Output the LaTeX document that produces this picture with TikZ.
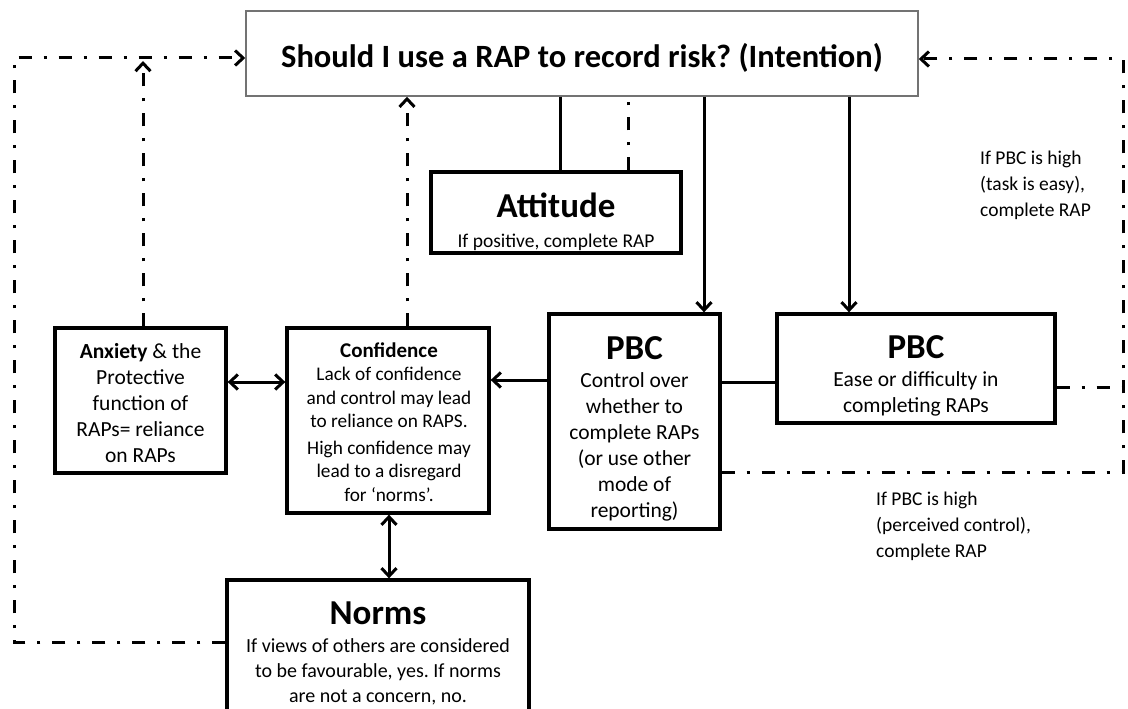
\documentclass[tikz,border=0pt]{standalone}
\usepackage{fontspec}
\setmainfont{Carlito}
\usetikzlibrary{arrows.meta}
\frenchspacing
\begin{document}
\begin{tikzpicture}[x=1pt,y=-1pt,
  box/.style={draw, line width=3.3pt, inner sep=0pt},
  txt/.style={align=center, inner sep=0pt},
  conn/.style={line width=3pt},
  dd/.style={line width=3pt, dash pattern=on 13pt off 12pt on 3pt off 12pt},
  barb/.tip={Straight Barb[length=8pt,width=15pt,line width=3pt]},
  tip/.style={-barb},
  tips/.style={barb-barb},
  lbl/.style={align=left, inner sep=0pt, font=\fontsize{19.5}{26}\selectfont},
  head/.style={font=\bfseries\fontsize{35}{40}\selectfont}
]
\useasboundingbox (0,0) rectangle (1128,709);

% boxes
\node[box, draw=black!55, line width=1.5pt, minimum width=672pt, minimum height=85pt] (top) at (582,53.5) {};
\node[box, minimum width=250pt, minimum height=81pt] (att) at (556,212.5) {};
\node[box, minimum width=171pt, minimum height=215pt] (pbc1) at (634.5,421.5) {};
\node[box, minimum width=278pt, minimum height=109pt] (pbc2) at (916,368.5) {};
\node[box, minimum width=171pt, minimum height=145pt] (anx) at (140.5,400.5) {};
\node[box, minimum width=202pt, minimum height=185pt] (conf) at (388,420.5) {};
\node[box, minimum width=302pt, minimum height=140pt] (norms) at (378,650) {};

% box texts
\node[txt, font=\bfseries\fontsize{32.5}{38}\selectfont] (toptxt) at (582,58)
  {Should I use a RAP to record risk? (Intention)};
\node[txt, font=\fontsize{19.5}{24}\selectfont] (atttxt) at (556,222)
  {{\bfseries\fontsize{35}{40}\selectfont Attitude}\\[6pt] If positive, complete RAP};
\node[txt, font=\fontsize{21.5}{26}\selectfont] (pbc1txt) at (634.5,428.5)
  {{\bfseries\fontsize{35}{40}\selectfont PBC}\\[2pt] Control over\\ whether to\\ complete RAPs\\ (or use other\\ mode of\\ reporting)};
\node[txt, font=\fontsize{21.5}{26}\selectfont] (pbc2txt) at (916,375.5)
  {{\bfseries\fontsize{35}{40}\selectfont PBC}\\[2pt] Ease or difficulty in\\ completing RAPs};
\node[txt, font=\fontsize{21.5}{26}\selectfont] (anxtxt) at (140.5,403.5)
  {\textbf{Anxiety} \& the\\ Protective\\ function of\\ RAPs= reliance\\ on RAPs};
\node[txt, font=\fontsize{19.3}{23.5}\selectfont] (conftxt) at (389,422)
  {{\bfseries\fontsize{21}{24}\selectfont Confidence}\\ Lack of confidence\\ and control may lead\\ to reliance on RAPS.\\[3pt] High confidence may\\ lead to a disregard\\ for ‘norms’.};
\node[txt, font=\fontsize{20}{25}\selectfont] (normstxt) at (378,653)
  {{\bfseries\fontsize{35}{40}\selectfont Norms}\\[3pt] If views of others are considered\\ to be favourable, yes. If norms\\ are not a concern, no.};

% free labels
\node[lbl, anchor=north west] (lab1) at (980,151) {If PBC is high\\ (task is easy),\\ complete RAP};
\node[lbl, anchor=north west] (lab2) at (876,492) {If PBC is high\\ (perceived control),\\ complete RAP};

% loop corners
\coordinate (lt) at (14,58);
\coordinate (lb) at (14,642);
\coordinate (rt) at (1123,59);
\coordinate (rb) at (1123,472);
\coordinate (anxend) at (143,61);

% solid connectors
\draw[conn] (560,0 |- top.south) -- (560,0 |- att.north);
\draw[conn,tip] (704,0 |- top.south) -- (704,0 |- pbc1.north);
\draw[conn,tip] (849,0 |- top.south) -- (849,0 |- pbc2.north);
\draw[conn] (pbc1.east |- 0,382) -- (pbc2.west |- 0,382);
\draw[conn,tip] (pbc1.west |- 0,380) -- (conf.east |- 0,380);
\draw[conn,tips] (anx.east |- 0,382) -- (conf.west |- 0,382);
\draw[conn,tips] (389,0 |- conf.south) -- (389,0 |- norms.north);

% dash-dot feedback connectors
\draw[dd] (628,0 |- att.north) -- (628,0 |- top.south);
\draw[dd,tip] (407,0 |- conf.north) -- (407,0 |- top.south);
\draw[dd,tip] (143,0 |- anx.north) -- (anxend);
\draw[dd,tip] (norms.west |- lb) -- (lb) -- (lt) -- (top.west |- lt);
\draw[dd,tip] (pbc1.east |- rb) -- (rb) -- (rt) -- (top.east |- rt);
\draw[dd] (pbc2.east |- 0,387) -- (rb |- 0,387);
\end{tikzpicture}
\end{document}
